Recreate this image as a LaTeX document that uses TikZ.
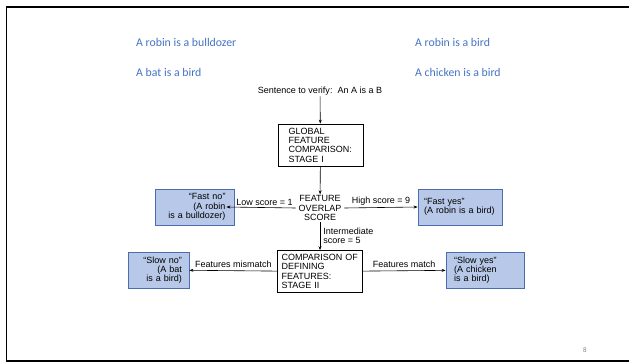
\documentclass[tikz,border=0pt]{standalone}
\usepackage{fontspec}
\setmainfont{Liberation Sans}
\newfontfamily\slidefont{Carlito}
\usetikzlibrary{arrows.meta, positioning}
\definecolor{SLBLUE}{HTML}{4472C4}
\definecolor{BOXFILL}{HTML}{B7C8E8}
\definecolor{BOXEDGE}{HTML}{4A6DAF}

\begin{document}
\begin{tikzpicture}[x=1pt, y=-1pt,
          scan/.style={inner sep=1pt, font=\fontsize{9}{9.3}\selectfont},
          stage/.style={scan, rectangle, draw=black, line width=0.7pt,
                        align=left, minimum height=42pt},
          answer/.style={scan, rectangle, draw=BOXEDGE, fill=BOXFILL,
                         line width=0.8pt, minimum height=36pt},
          example/.style={inner sep=0pt, anchor=west, text=SLBLUE,
                          font=\slidefont\fontsize{11.8}{14}\selectfont},
          arr/.style={-{Stealth[length=4pt,width=3pt]}, line width=0.6pt}
        ]
          \useasboundingbox (0,0) rectangle (629,363);
          \draw[line width=1.6pt] (629,7) -- (6.5,7) -- (6.5,361) -- (629,361);

          % example sentences
          \node[example] (robinbull) at (136,42) {A robin is a bulldozer};
          \node[example] (batbird) at (136,72) {A bat is a bird};
          \node[example] (robinbird) at (415,42) {A robin is a bird};
          \node[example] (chickbird) at (415,72) {A chicken is a bird};

          % the model
          \node[scan] (sentence) at (320,91) {Sentence to verify:\ \ An A is a B};
          \node[stage, text width=64pt, inner xsep=10.5pt] (global) at (320.5,145)
               {GLOBAL\\FEATURE\\COMPARISON:\\STAGE I};
          \node[scan, inner xsep=3pt, align=center] (overlap) at (320,208) {FEATURE\\OVERLAP\\SCORE};
          \node[stage, text width=77pt, inner xsep=4pt] (defining) at (320,271.5)
               {COMPARISON OF\\DEFINING\\FEATURES:\\STAGE II};

          \node[answer, minimum width=79pt, text width=62pt, align=right] (fastno) at (194.5,207)
               {``Fast no''\\(A robin\\is a bulldozer)};
          \node[answer, minimum width=84pt, text width=72pt, align=left] (fastyes) at (460,207)
               {``Fast yes''\\(A robin is a bird)};
          \node[answer, minimum width=61pt, text width=47pt, align=right] (slowno) at (158.5,270)
               {``Slow no''\\(A bat\\is a bird)};
          \node[answer, minimum width=78pt, text width=62pt, align=left] (slowyes) at (485,270)
               {``Slow yes''\\(A chicken\\is a bird)};

          \draw[arr] (sentence) -- (global);
          \draw[arr] (global) -- (overlap);
          \draw[arr] (overlap.west) -- node[scan, above=1pt, pos=0.45] (lowlbl) {Low score = 1}
               ([xshift=-8pt]fastno.east);
          \draw[arr] (overlap.east) -- node[scan, above=1pt] (highlbl) {High score = 9}
               (fastyes.west);
          \draw[arr] (overlap) -- node[scan, right=2pt, align=left] (midlbl) {Intermediate\\score = 5}
               (defining);
          \draw[arr] (defining) -- node[scan, above=2pt] (mismatchlbl) {Features mismatch}
               (slowno);
          \draw[arr] (defining) -- node[scan, above=2pt] (matchlbl) {Features match}
               (slowyes);

          \node[text=gray, font=\slidefont\fontsize{7}{8}\selectfont] (pagenum) at (585,350) {8};
        \end{tikzpicture}
\end{document}
